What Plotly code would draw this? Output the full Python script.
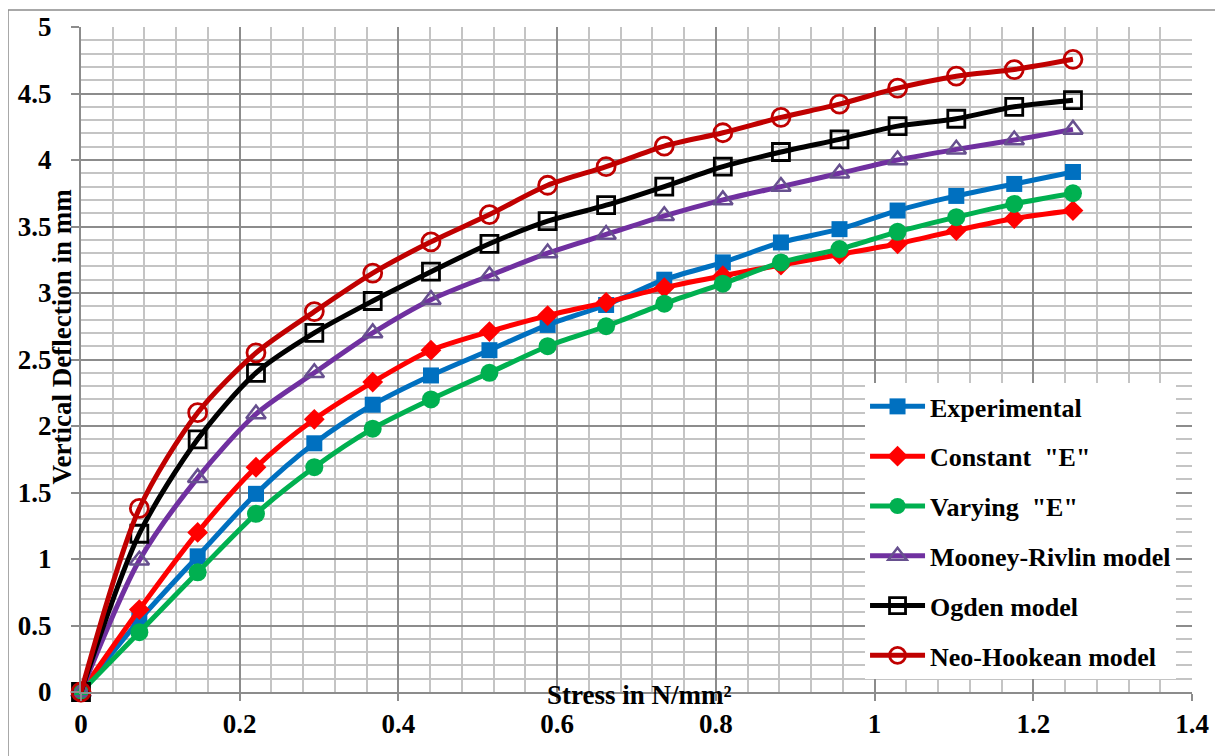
import plotly.graph_objects as go

stress = [0, 0.0735, 0.147, 0.2205, 0.294, 0.3676, 0.441, 0.5147, 0.588, 0.6617,
          0.735, 0.8088, 0.882, 0.9558, 1.029, 1.103, 1.176, 1.25]

experimental = [0, 0.54, 1.02, 1.49, 1.87, 2.16, 2.38, 2.57, 2.76, 2.91,
                3.10, 3.23, 3.38, 3.48, 3.62, 3.73, 3.82, 3.91]
constant_e = [0, 0.62, 1.20, 1.69, 2.05, 2.33, 2.57, 2.71, 2.83, 2.93,
              3.04, 3.13, 3.21, 3.29, 3.37, 3.47, 3.56, 3.62]
varying_e = [0, 0.45, 0.90, 1.34, 1.69, 1.98, 2.20, 2.40, 2.60, 2.75,
             2.92, 3.07, 3.23, 3.33, 3.46, 3.57, 3.67, 3.75]
mooney_rivlin = [0, 0.99, 1.61, 2.09, 2.40, 2.70, 2.95, 3.13, 3.30, 3.44,
                 3.58, 3.70, 3.80, 3.90, 4.00, 4.08, 4.15, 4.23]
ogden = [0, 1.19, 1.90, 2.40, 2.70, 2.94, 3.16, 3.37, 3.54, 3.66,
         3.80, 3.95, 4.06, 4.155, 4.255, 4.31, 4.40, 4.45]
neo_hookean = [0, 1.38, 2.10, 2.55, 2.86, 3.15, 3.385, 3.59, 3.81, 3.95,
               4.105, 4.205, 4.32, 4.42, 4.54, 4.63, 4.68, 4.757]

series_names = ["Experimental", 'Constant  "E"', 'Varying  "E"',
                "Mooney-Rivlin model", "Ogden model", "Neo-Hookean model"]
x_ticks = [0, 0.2, 0.4, 0.6, 0.8, 1, 1.2, 1.4]
x_tick_text = ["0", "0.2", "0.4", "0.6", "0.8", "1", "1.2", "1.4"]
y_ticks = [0, 0.5, 1, 1.5, 2, 2.5, 3, 3.5, 4, 4.5, 5]
y_tick_text = ["0", "0.5", "1", "1.5", "2", "2.5", "3", "3.5", "4", "4.5", "5"]

styles = [
    dict(line="#0070C0", symbol="square", size=16, mcolor="#0070C0", mline=0, mlc="#0070C0"),
    dict(line="#FF0000", symbol="diamond", size=16, mcolor="#FF0000", mline=0, mlc="#FF0000"),
    dict(line="#00B050", symbol="circle", size=18, mcolor="#00B050", mline=0, mlc="#00B050"),
    dict(line="#7030A0", symbol="triangle-up-open", size=17, mcolor="#67508F", mline=2.5, mlc="#67508F"),
    dict(line="#000000", symbol="square-open", size=17, mcolor="#000000", mline=2.8, mlc="#000000"),
    dict(line="#C00000", symbol="circle-open", size=18, mcolor="#C00000", mline=2.8, mlc="#C00000"),
]
all_series = [experimental, constant_e, varying_e, mooney_rivlin, ogden, neo_hookean]

fig = go.Figure()
for i, (name, vals, st) in enumerate(zip(series_names, all_series, styles)):
    fig.add_trace(go.Scatter(
        x=stress, y=vals, name=name, mode="lines+markers",
        legendgroup=f"g{i}",
        line=dict(color=st["line"], width=5, shape="spline", smoothing=0.8),
        marker=dict(symbol=st["symbol"], size=st["size"], color=st["mcolor"],
                    line=dict(width=st["mline"], color=st["mlc"])),
        cliponaxis=False,
    ))

font_family = "Liberation Serif"
tick_font = dict(family=font_family, size=27, color="black", weight="bold")
# page body has an 8px default margin; figure is sized so the plot lands where the reference has it
fig.update_layout(
    width=1215, height=748,
    margin=dict(l=73, r=31, t=19, b=64, autoexpand=False),
    paper_bgcolor="white", plot_bgcolor="white",
    font=dict(family=font_family, size=26, color="black", weight="bold"),
    showlegend=True,
    legend=dict(x=0.7057, y=0.4647, xanchor="left", yanchor="top",
                bgcolor="white", borderwidth=0, tracegroupgap=13,
                font=dict(family=font_family, size=26, color="black", weight="bold"),
                itemwidth=55),
    xaxis=dict(range=[0, 1.4], tickvals=x_ticks, ticktext=x_tick_text,
               showgrid=True, gridcolor="#8C8C8C", gridwidth=1.5,
               minor=dict(dtick=0.04, showgrid=True, gridcolor="#C4C4C4", gridwidth=1.8),
               showline=True, linecolor="#8C8C8C", linewidth=2,
               ticks="outside", ticklen=7, tickcolor="#8C8C8C", tickwidth=1.5,
               zeroline=False, ticklabelstandoff=0, automargin=False,
               tickfont=tick_font),
    yaxis=dict(range=[0, 5], tickvals=y_ticks, ticktext=y_tick_text,
               showgrid=True, gridcolor="#8C8C8C", gridwidth=1.5,
               minor=dict(dtick=0.1, showgrid=True, gridcolor="#C4C4C4", gridwidth=1.8),
               showline=True, linecolor="#8C8C8C", linewidth=2,
               ticks="outside", ticklen=8, tickcolor="#8C8C8C", tickwidth=1.5,
               zeroline=False, ticklabelstandoff=14, automargin=False,
               tickfont=tick_font),
    annotations=[
        dict(text="Stress in N/mm²", xref="paper", yref="paper",
             x=0.503, y=-0.004, xanchor="center", yanchor="middle", showarrow=False,
             font=dict(family=font_family, size=27, color="black", weight="bold")),
        dict(text="Vertical Deflection in mm", xref="paper", yref="paper",
             x=-0.0175, y=0.534, xanchor="center", yanchor="middle", showarrow=False,
             textangle=-90,
             font=dict(family=font_family, size=27, color="black", weight="bold")),
    ],
    shapes=[
        dict(type="rect", xref="paper", yref="paper",
             x0=-0.0657, x1=1.04, y0=-0.12, y1=1.0256,
             line=dict(color="#8C8C8C", width=1.5), fillcolor="rgba(0,0,0,0)", layer="below"),
    ],
)

fig.write_html("out.html")
